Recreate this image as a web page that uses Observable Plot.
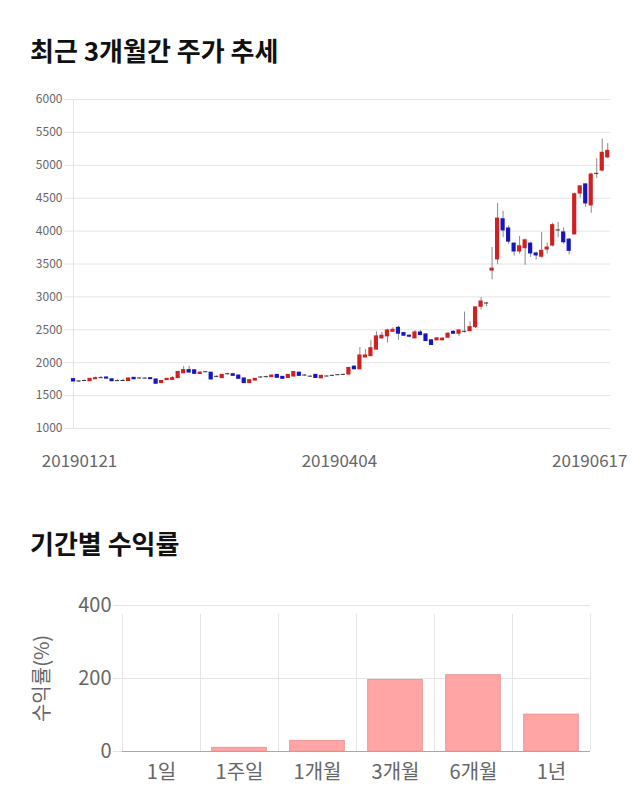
<!DOCTYPE html>
<html><head><meta charset="utf-8">
<script src="https://cdn.jsdelivr.net/npm/d3@7"></script>
<script src="https://cdn.jsdelivr.net/npm/@observablehq/plot@0.6"></script>
<style>
body{margin:0;background:#fff;font-family:"Noto Sans CJK KR","Noto Sans",sans-serif;width:640px;height:810px;position:relative;overflow:hidden}
.title{position:absolute;left:30px;font-size:26px;font-weight:700;color:#111;line-height:30px;white-space:nowrap}
#c1{position:absolute;left:0;top:80px}
#c2{position:absolute;left:0;top:590px}
</style></head><body>
<div class="title" style="top:35px">최근 3개월간 주가 추세</div>
<div id="c1"></div>
<div class="title" style="top:528px">기간별 수익률</div>
<div id="c2"></div>
<script>
// ---- Chart 1: daily candles (20190121 .. 20190617) ----
const opens  = [1750,1715,1722,1718,1748,1765,1775,1748,1720,1722,1722,1770,1760,1758,1765,1745,1690,1735,1738,1765,
                1840,1888,1885,1828,1855,1848,1785,1765,1825,1825,1805,1760,1690,1728,1775,1780,1780,1815,1785,1768,
                1790,1848,1805,1788,1815,1762,1790,1800,1810,1815,1820,1940,1900,2080,2100,2200,2370,2400,2470,2530,
                2450,2410,2370,2460,2430,2340,2340,2340,2380,2470,2440,2470,2480,2540,2850,2900,3400,3570,4180,4040,
                3810,3690,3740,3810,3660,3610,3720,3780,4010,3980,3870,3950,4570,4710,4390,4870,4920,5120];
const highs  = [1760,1725,1735,1760,1780,1790,1780,1750,1740,1750,1765,1775,1770,1770,1770,1750,1730,1760,1790,1870,
                1940,1945,1890,1860,1865,1850,1800,1820,1840,1840,1810,1765,1740,1760,1790,1795,1810,1820,1790,1820,
                1865,1855,1820,1800,1820,1810,1800,1810,1820,1825,1930,1950,2230,2200,2340,2470,2460,2510,2530,2550,
                2460,2420,2490,2490,2440,2350,2380,2380,2460,2480,2500,2770,2620,2850,2990,2920,3750,4420,4300,4080,
                3820,3920,3880,3830,3680,3980,3820,4120,4130,4050,3890,4580,4690,4720,4880,5100,5400,5330];
const lows   = [1710,1700,1715,1715,1745,1760,1755,1715,1715,1718,1720,1745,1750,1750,1745,1675,1685,1730,1735,1760,
                1835,1845,1825,1825,1850,1740,1770,1760,1810,1795,1745,1685,1685,1725,1770,1770,1775,1765,1750,1765,
                1785,1795,1795,1780,1765,1760,1785,1795,1805,1810,1815,1895,1895,2070,2090,2190,2360,2300,2460,2340,
                2400,2380,2360,2410,2320,2265,2335,2335,2370,2435,2400,2450,2470,2520,2800,2850,3260,3490,3900,3800,
                3620,3650,3480,3600,3560,3590,3650,3760,3900,3800,3640,3940,4500,4360,4270,4800,4900,5100];
const closes = [1715,1715,1722,1755,1765,1765,1758,1718,1720,1722,1760,1748,1760,1758,1750,1680,1722,1755,1765,1860,
                1888,1850,1830,1850,1855,1745,1785,1815,1825,1800,1755,1690,1735,1755,1775,1780,1805,1770,1755,1815,
                1858,1800,1805,1788,1768,1800,1790,1800,1810,1815,1920,1900,2110,2110,2220,2400,2410,2490,2500,2440,
                2410,2395,2460,2420,2330,2270,2370,2365,2440,2440,2490,2470,2540,2840,2930,2900,3430,4190,4010,3840,
                3690,3770,3860,3660,3630,3700,3750,4090,4010,3830,3700,4560,4680,4420,4860,4870,5190,5220];
const priceTicks = [1000,1500,2000,2500,3000,3500,4000,4500,5000,5500,6000];
const dateLabels = ["20190121","20190404","20190617"];
const dateLabelIndex = [0,49,97];

// ---- Chart 2: returns by period ----
const periods = ["1일","1주일","1개월","3개월","6개월","1년"];
const returns = [0,10,29,196,209,101];
const returnTicks = [0,200,400];

const FONT = '"Noto Sans CJK KR","Noto Sans",sans-serif';
const RED = "#d02020", BLUE = "#1616c0", DOJI = "#333";
const candles = opens.map((o,i)=>({i, open:o, high:highs[i], low:lows[i], close:closes[i]}));
const candleColor = d => d.close > d.open ? RED : d.close < d.open ? BLUE : DOJI;
const labelDx = [6,-4,-18];

const chart1 = Plot.plot({
  width:640, height:400, marginTop:19, marginBottom:52, marginLeft:73, marginRight:30,
  style:{fontFamily:FONT, background:"transparent"},
  x:{domain:[0,97.5], axis:null},
  y:{domain:[1000,6000], axis:null},
  marks:[
    Plot.gridY(priceTicks, {stroke:"#e4e4e4", strokeOpacity:1}),
    Plot.axisY(priceTicks, {label:null, tickSize:9, tickPadding:2, stroke:"#e4e4e4", fill:"#666", fontSize:12, tickFormat:d=>String(d)}),
    Plot.ruleX([0], {stroke:"#e4e4e4"}),
    Plot.ruleX(candles, {x:"i", y1:"low", y2:"high", stroke:"#8a8a8a", strokeWidth:1}),
    Plot.rect(candles, {x1:d=>d.i-0.38, x2:d=>d.i+0.38, y1:"open", y2:"close", fill:candleColor, insetTop:-0.5, insetBottom:-0.5}),
    ...dateLabels.map((lab,k)=>Plot.axisX([dateLabelIndex[k]], {label:null, tickSize:0, tickPadding:26, fontSize:17, fill:"#666", dx:labelDx[k], tickFormat:()=>lab}))
  ]
});
document.getElementById("c1").appendChild(chart1);

const rows = periods.map((p,i)=>({i, period:p, value:returns[i]}));
const chart2 = Plot.plot({
  width:640, height:210, marginTop:15, marginBottom:49, marginLeft:122, marginRight:50,
  style:{fontFamily:FONT, background:"transparent"},
  x:{domain:[0,6], axis:null},
  y:{domain:[0,400], axis:null},
  marks:[
    Plot.gridY([200,400], {stroke:"#e4e4e4", strokeOpacity:1}),
    Plot.ruleX(d3.range(periods.length+1), {y1:0, y2:400, stroke:"#e4e4e4", insetBottom:-9}),
    Plot.axisY(returnTicks, {label:null, tickSize:9, tickPadding:2, stroke:"#e4e4e4", fill:"#666", fontSize:20, tickFormat:d=>String(d)}),
    Plot.rect(rows, {x1:d=>d.i+0.15, x2:d=>d.i+0.85, y1:0, y2:"value", fill:"#ffa5a5", stroke:"#ec9696", strokeWidth:1}),
    Plot.ruleY([0], {stroke:"#a8a8a8"}),
    Plot.axisX(rows.map(d=>d.i+0.5), {label:null, tickSize:0, tickPadding:13, fontSize:20, fill:"#666", tickFormat:v=>periods[Math.floor(v)]}),
    Plot.text(["수익률(%)"], {frameAnchor:"left", textAnchor:"middle", text:d=>d, rotate:-90, dx:-80, fontSize:20, fill:"#666"})
  ]
});
document.getElementById("c2").appendChild(chart2);
</script>
</body></html>
